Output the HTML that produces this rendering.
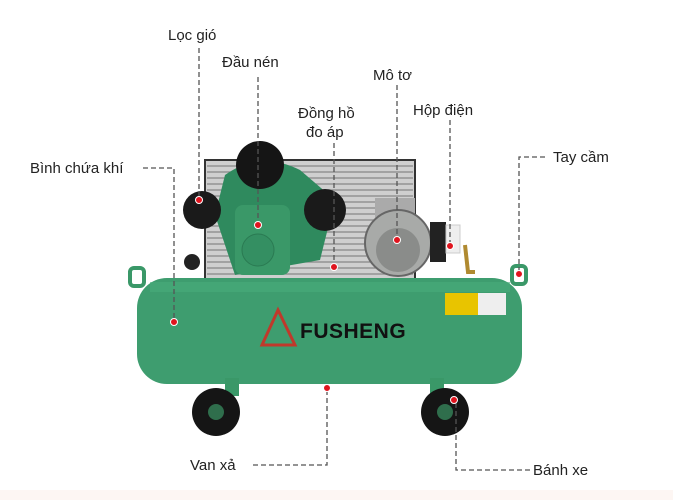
<!DOCTYPE html>
<html><head><meta charset="utf-8"><style>
html,body{margin:0;padding:0;background:#fff;}
svg{display:block;}
text{font-family:"Liberation Sans",sans-serif;font-size:15px;fill:#222;}
.d{stroke:#555;stroke-width:1.3;stroke-dasharray:5 3;fill:none;}
</style></head><body>
<svg width="673" height="500" viewBox="0 0 673 500">
<rect width="673" height="500" fill="#fff"/>
<rect x="0" y="490" width="673" height="10" fill="#fdf6f3"/>
<!-- grille -->
<rect x="205" y="160" width="210" height="120" fill="#cfcfcf" stroke="#333" stroke-width="2"/>
<g stroke="#888" stroke-width="1.2">
<line x1="207" y1="166" x2="413" y2="166"/><line x1="207" y1="172" x2="413" y2="172"/><line x1="207" y1="178" x2="413" y2="178"/><line x1="207" y1="184" x2="413" y2="184"/><line x1="207" y1="190" x2="413" y2="190"/><line x1="207" y1="196" x2="413" y2="196"/><line x1="207" y1="202" x2="413" y2="202"/><line x1="207" y1="208" x2="413" y2="208"/><line x1="207" y1="214" x2="413" y2="214"/><line x1="207" y1="220" x2="413" y2="220"/><line x1="207" y1="226" x2="413" y2="226"/><line x1="207" y1="232" x2="413" y2="232"/><line x1="207" y1="238" x2="413" y2="238"/><line x1="207" y1="244" x2="413" y2="244"/><line x1="207" y1="250" x2="413" y2="250"/><line x1="207" y1="256" x2="413" y2="256"/><line x1="207" y1="262" x2="413" y2="262"/><line x1="207" y1="268" x2="413" y2="268"/><line x1="207" y1="274" x2="413" y2="274"/>
</g>
<!-- compressor head -->
<path d="M225 175 Q260 150 300 170 L335 200 L320 260 L235 275 L215 215 Z" fill="#2f8a5e"/>
<rect x="235" y="205" width="55" height="70" rx="8" fill="#3a9868"/>
<circle cx="258" cy="250" r="16" fill="#348f62" stroke="#2a7a52"/>
<circle cx="260" cy="165" r="24" fill="#151515"/>
<circle cx="202" cy="210" r="19" fill="#1a1a1a"/>
<circle cx="325" cy="210" r="21" fill="#1a1a1a"/>
<circle cx="192" cy="262" r="8" fill="#222"/>
<!-- motor -->
<rect x="375" y="198" width="40" height="20" fill="#aaa"/>
<circle cx="398" cy="243" r="33" fill="#a8aaa8" stroke="#666" stroke-width="2"/>
<circle cx="398" cy="250" r="22" fill="#8a8c8a"/>
<rect x="430" y="222" width="16" height="40" fill="#222"/>
<rect x="446" y="225" width="14" height="28" fill="#eee" stroke="#ccc"/>
<path d="M465 245 L468 272 L475 272" stroke="#b08a30" stroke-width="4" fill="none"/>
<!-- tank -->
<rect x="137" y="278" width="385" height="106" rx="30" fill="#3e9d6f"/>
<rect x="150" y="282" width="360" height="10" fill="#4aab7c" opacity=".6"/>
<rect x="130" y="268" width="14" height="18" rx="4" fill="none" stroke="#3a9868" stroke-width="4"/>
<rect x="512" y="266" width="14" height="18" rx="4" fill="none" stroke="#3a9868" stroke-width="4"/>
<rect x="445" y="293" width="60" height="22" fill="#e8c400"/>
<rect x="478" y="293" width="28" height="22" fill="#eee"/>
<polygon points="278,310 262,345 295,345" fill="none" stroke="#c0392b" stroke-width="3"/>
<text x="300" y="338" style="font-size:21px;font-weight:bold;fill:#111;letter-spacing:0.5px">FUSHENG</text>
<!-- legs & wheels -->
<rect x="225" y="378" width="14" height="18" fill="#3a9868"/>
<rect x="430" y="378" width="14" height="18" fill="#3a9868"/>
<circle cx="216" cy="412" r="24" fill="#151515"/>
<circle cx="216" cy="412" r="8" fill="#2f6e4c"/>
<circle cx="445" cy="412" r="24" fill="#151515"/>
<circle cx="445" cy="412" r="8" fill="#2f6e4c"/>
<!-- labels -->
<text x="168" y="40">Lọc gió</text>
<text x="222" y="67">Đầu nén</text>
<text x="373" y="80">Mô tơ</text>
<text x="298" y="118">Đồng hồ</text>
<text x="306" y="137">đo áp</text>
<text x="413" y="115">Hộp điện</text>
<text x="553" y="162">Tay cầm</text>
<text x="30" y="173">Bình chứa khí</text>
<text x="190" y="470">Van xả</text>
<text x="533" y="475">Bánh xe</text>
<!-- leaders -->
<path class="d" d="M199 48 V200"/>
<path class="d" d="M258 77 V225"/>
<path class="d" d="M397 85 V240"/>
<path class="d" d="M334 143 V267"/>
<path class="d" d="M450 120 V246"/>
<path class="d" d="M545 157 H519 V272"/>
<path class="d" d="M143 168 H174 V322"/>
<path class="d" d="M253 465 H327 V385"/>
<path class="d" d="M530 470 H456 V400"/>
<g fill="#e0141e" stroke="#fff" stroke-width="1">
<circle cx="199" cy="200" r="3.5"/><circle cx="258" cy="225" r="3.5"/><circle cx="397" cy="240" r="3.5"/><circle cx="334" cy="267" r="3.5"/><circle cx="450" cy="246" r="3.5"/><circle cx="519" cy="274" r="3.5"/><circle cx="174" cy="322" r="3.5"/><circle cx="327" cy="388" r="3.5"/><circle cx="454" cy="400" r="3.5"/>
</g>
</svg>
</body></html>
